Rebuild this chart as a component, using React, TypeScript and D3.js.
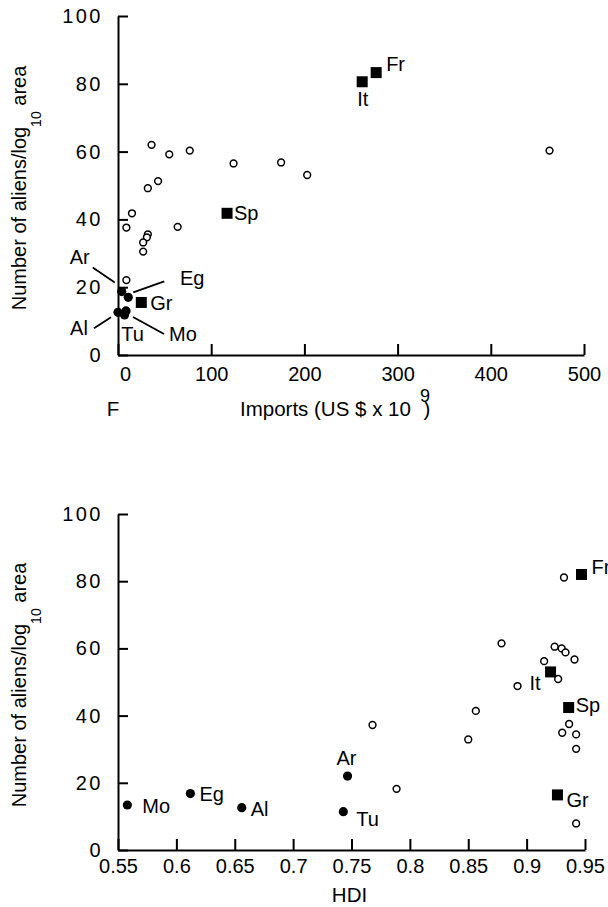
import React, { useEffect, useRef } from 'react';
import * as d3 from 'd3';

// ---- panel 1: imports ----
// unnamed countries (open circles)
const impOpenX = [36, 55, 77, 124, 175, 203, 32, 43, 463, 15, 9, 64, 32, 31, 27, 27, 9];
const impOpenY = [62, 59.2, 60.3, 56.5, 56.8, 53.1, 49.2, 51.3, 60.3, 41.8, 37.6, 37.8, 35.6, 34.7, 33.2, 30.5, 22.1];
// named countries
const impCodes = ['Ar', 'Eg', 'Al', 'Tu', 'Mo', 'Gr', 'Sp', 'It', 'Fr'];
const impX = [4, 11, 0, 7, 8.6, 25, 117, 262, 277];
const impY = [18.7, 17, 12.6, 11.8, 13, 15.5, 41.8, 80.6, 83.3];
const impTicks = [0, 100, 200, 300, 400, 500];

// ---- panel 2: HDI ----
const hdiOpenX = [0.768, 0.7886, 0.85, 0.8565, 0.8785, 0.8922, 0.915, 0.924, 0.93, 0.9333, 0.941, 0.927, 0.9364, 0.9305, 0.9424, 0.9424, 0.9424, 0.932];
const hdiOpenY = [37.2, 18.2, 32.9, 41.4, 61.5, 48.8, 56.2, 60.5, 60, 58.8, 56.7, 50.9, 37.5, 34.9, 34.4, 30.1, 7.9, 81.1];
const hdiCodes = ['Mo', 'Eg', 'Al', 'Ar', 'Tu', 'It', 'Sp', 'Gr', 'Fr'];
const hdiX = [0.558, 0.612, 0.656, 0.7466, 0.743, 0.9205, 0.936, 0.9264, 0.947];
const hdiY = [13.4, 16.8, 12.6, 22, 11.4, 53, 42.4, 16.4, 82];
const hdiTicks = [0.55, 0.6, 0.65, 0.7, 0.75, 0.8, 0.85, 0.9, 0.95];

const yTicks = [0, 20, 40, 60, 80, 100];
// Mediterranean EU members drawn as squares
const europe = ['Fr', 'It', 'Sp', 'Gr'];

const FONT = '"Liberation Sans", Arial, Helvetica, sans-serif';

// label placement relative to the point (px)
const impLabels = {
  Ar: { dx: -42, dy: -35, anchor: 'middle', line: [-29, -24, -7, -9] },
  Eg: { dx: 64, dy: -19, anchor: 'middle', line: [36, -16, 5, -5] },
  Al: { dx: -39, dy: 16, anchor: 'middle', line: [-24, 16, -7, 5] },
  Tu: { dx: 8, dy: 19, anchor: 'middle' },
  Mo: { dx: 57, dy: 23, anchor: 'middle', line: [38, 23, 7, 6] },
  Gr: { dx: 9, dy: 1, anchor: 'start' },
  Sp: { dx: 7, dy: 0, anchor: 'start' },
  It: { dx: -5, dy: 17, anchor: 'start' },
  Fr: { dx: 10, dy: -9, anchor: 'start' },
};
const hdiLabels = {
  Mo: { dx: 15, dy: 1, anchor: 'start' },
  Eg: { dx: 9, dy: 0, anchor: 'start' },
  Al: { dx: 9, dy: 1, anchor: 'start' },
  Ar: { dx: -1, dy: -18, anchor: 'middle' },
  Tu: { dx: 13, dy: 7, anchor: 'start' },
  It: { dx: -10, dy: 11, anchor: 'end' },
  Sp: { dx: 7, dy: -3, anchor: 'start' },
  Gr: { dx: 9, dy: 5, anchor: 'start' },
  Fr: { dx: 10, dy: -7, anchor: 'start' },
};

const App = () => {
  const svgRef = useRef<SVGSVGElement>(null);

  useEffect(() => {
    const svg = d3.select(svgRef.current);
    svg.selectAll('*').remove();
    svg.attr('font-family', FONT);

    const drawPanel = (x, y, xTicks, xPad, openX, openY, codes, xs, ys, labels) => {
      const g = svg.append('g');

      // x axis, ticks pointing inward
      const xAxis = g.append('g')
        .attr('transform', `translate(0,${y(0)})`)
        .call(d3.axisBottom(x).tickValues(xTicks).tickSize(-11).tickSizeOuter(0).tickPadding(xPad)
          .tickFormat(d => String(+(+d).toFixed(2))));
      xAxis.selectAll('text').attr('font-size', 20).attr('fill', '#000').attr('font-family', FONT);

      const yAxis = g.append('g')
        .attr('transform', `translate(${x.range()[0]},0)`)
        .call(d3.axisLeft(y).tickValues(yTicks).tickSize(-10).tickSizeOuter(0).tickPadding(15));
      yAxis.selectAll('text').attr('font-size', 20).attr('fill', '#000')
        .attr('letter-spacing', 2.5).attr('font-family', FONT);

      [xAxis, yAxis].forEach(a => {
        a.select('.domain').attr('stroke', '#000').attr('stroke-width', 2);
        a.selectAll('.tick line').attr('stroke', '#000').attr('stroke-width', 2);
      });

      // open circles
      g.selectAll('.open')
        .data(openX)
        .enter().append('circle')
        .attr('cx', d => x(d))
        .attr('cy', (d, i) => y(openY[i]))
        .attr('r', 3.4)
        .attr('fill', '#fff')
        .attr('stroke', '#000')
        .attr('stroke-width', 1.5);

      const pts = codes.map((c, i) => ({ c, px: x(xs[i]), py: y(ys[i]) }));

      // filled circles for non-EU
      g.selectAll('.dot')
        .data(pts.filter(p => !europe.includes(p.c)))
        .enter().append('circle')
        .attr('cx', p => p.px)
        .attr('cy', p => p.py)
        .attr('r', 4.6)
        .attr('fill', '#000');

      // squares for EU
      const s = 11;
      g.selectAll('.sq')
        .data(pts.filter(p => europe.includes(p.c)))
        .enter().append('rect')
        .attr('x', p => p.px - s / 2)
        .attr('y', p => p.py - s / 2)
        .attr('width', s)
        .attr('height', s)
        .attr('fill', '#000');

      // leader lines
      pts.forEach(p => {
        const l = labels[p.c];
        if (l.line) {
          g.append('line')
            .attr('x1', p.px + l.line[0]).attr('y1', p.py + l.line[1])
            .attr('x2', p.px + l.line[2]).attr('y2', p.py + l.line[3])
            .attr('stroke', '#000').attr('stroke-width', 1.8);
        }
        g.append('text')
          .attr('x', p.px + l.dx)
          .attr('y', p.py + l.dy)
          .attr('text-anchor', l.anchor)
          .attr('dominant-baseline', 'central')
          .attr('font-size', 20)
          .text(p.c);
      });
      return xAxis;
    };

    const yTitle = (cy) => {
      const t = svg.append('text')
        .attr('transform', `translate(26,${cy}) rotate(-90)`)
        .attr('text-anchor', 'middle')
        .attr('font-size', 20);
      t.append('tspan').text('Number of aliens/log');
      t.append('tspan').attr('font-size', 14).attr('dy', 15).text('10');
      t.append('tspan').attr('dy', -15).text(' area');
    };

    // panel 1
    const xImp = d3.scaleLinear().domain([0, 500]).range([118, 584]);
    const yImp = d3.scaleLinear().domain([0, 100]).range([355, 16]);
    const ax1 = drawPanel(xImp, yImp, impTicks, 12, impOpenX, impOpenY, impCodes, impX, impY, impLabels);
    ax1.selectAll('text').filter(d => d === 0).attr('dx', 7);
    yTitle(188);

    const xl = svg.append('text')
      .attr('x', 240).attr('y', 416)
      .attr('font-size', 20.5);
    xl.append('tspan').text('Imports (US $ x 10');
    xl.append('tspan').attr('font-size', 18).attr('dx', 9).attr('dy', -14.5).text('9');
    xl.append('tspan').attr('dx', -6.5).attr('dy', 14.5).text(')');

    svg.append('text')
      .attr('x', 113).attr('y', 416)
      .attr('text-anchor', 'middle')
      .attr('font-size', 20.5)
      .text('F');

    // panel 2
    const xHdi = d3.scaleLinear().domain([0.55, 0.95]).range([118, 585]);
    const yHdi = d3.scaleLinear().domain([0, 100]).range([850, 514]);
    drawPanel(xHdi, yHdi, hdiTicks, 9, hdiOpenX, hdiOpenY, hdiCodes, hdiX, hdiY, hdiLabels);
    yTitle(685);

    svg.append('text')
      .attr('x', 349.5).attr('y', 902)
      .attr('text-anchor', 'middle')
      .attr('font-size', 20.5)
      .text('HDI');
  }, []);

  return (
    <svg ref={svgRef} width={608} height={907}
      style={{ position: 'absolute', left: 0, top: 0, background: '#fff' }}></svg>
  );
};

export default App;
